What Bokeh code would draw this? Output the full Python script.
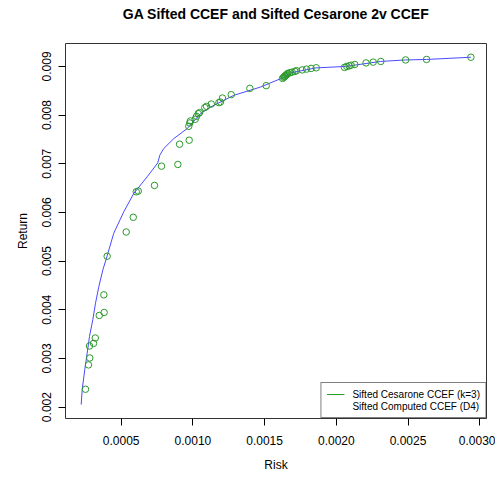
from bokeh.plotting import figure
from bokeh.models import FixedTicker, PrintfTickFormatter, Legend, LegendItem, Range1d, Title
from bokeh.embed import file_html
from bokeh.resources import INLINE

# Sifted Cesarone CCEF (k=3) -- frontier line
line_risk = [0.000221, 0.000228, 0.000246, 0.000263, 0.000279, 0.000302, 0.000321,
             0.000344, 0.000372, 0.000402, 0.000448, 0.000518, 0.000588, 0.000681,
             0.000755, 0.000769, 0.000797, 0.000867, 0.000960, 0.001053, 0.001123,
             0.001285, 0.001471, 0.001634, 0.001681, 0.001855, 0.002064, 0.002308,
             0.002483, 0.002629, 0.002939]
line_return = [0.002053, 0.002361, 0.002770, 0.003113, 0.003453, 0.003795, 0.004137,
               0.004477, 0.004820, 0.005107, 0.005572, 0.006014, 0.006391, 0.006732,
               0.007018, 0.007176, 0.007314, 0.007518, 0.007723, 0.008031, 0.008166,
               0.008406, 0.008576, 0.008775, 0.008867, 0.008969, 0.009000, 0.009102,
               0.009133, 0.009143, 0.009189]

# Sifted Computed CCEF (D4) -- points
pts_risk = [0.000251, 0.000272, 0.000281, 0.000279, 0.000307, 0.000319, 0.000347,
            0.000381, 0.000379, 0.000402, 0.000535, 0.000584, 0.000605, 0.000619,
            0.000732, 0.000781, 0.000895, 0.000907, 0.000974, 0.000971, 0.000978,
            0.000983, 0.001016, 0.001025, 0.001037, 0.001046, 0.001083, 0.001095,
            0.001128, 0.001181, 0.001192, 0.001206, 0.001267, 0.001397, 0.001511,
            0.001625, 0.001632, 0.001639, 0.001642, 0.001646, 0.001653, 0.001658,
            0.001663, 0.001676, 0.001692, 0.001711, 0.001722, 0.001762, 0.001792,
            0.001824, 0.001860, 0.002057, 0.002073, 0.002089, 0.002103, 0.002129,
            0.002207, 0.002257, 0.002310, 0.002483, 0.002629, 0.002938]
pts_return = [0.002367, 0.002867, 0.003010, 0.003256, 0.003309, 0.003420, 0.003883,
              0.003945, 0.004307, 0.005100, 0.005598, 0.005900, 0.006424, 0.006439,
              0.006555, 0.006951, 0.006986, 0.007402, 0.007484, 0.007770, 0.007838,
              0.007879, 0.007914, 0.007975, 0.008031, 0.008051, 0.008154, 0.008180,
              0.008227, 0.008256, 0.008268, 0.008350, 0.008420, 0.008549, 0.008605,
              0.008754, 0.008775, 0.008789, 0.008801, 0.008816, 0.008826, 0.008846,
              0.008857, 0.008871, 0.008883, 0.008898, 0.008912, 0.008928, 0.008945,
              0.008959, 0.008973, 0.008980, 0.009000, 0.009010, 0.009025, 0.009041,
              0.009072, 0.009088, 0.009102, 0.009133, 0.009143, 0.009189]

x_ticks = [0.0005, 0.0010, 0.0015, 0.0020, 0.0025, 0.0030]
y_ticks = [0.002, 0.003, 0.004, 0.005, 0.006, 0.007, 0.008, 0.009]

TITLE = "GA Sifted CCEF and Sifted Cesarone 2v CCEF"
FONT = "Liberation Sans"
GREEN = "#2a9a2a"
BLUE = "#4a4aff"

p = figure(width=495, height=474, output_backend="svg", toolbar_location=None,
           x_range=Range1d(0.0001116, 0.003047), y_range=Range1d(0.001766, 0.009471),
           min_border_left=65, min_border_right=9, min_border_top=0, min_border_bottom=55)
p.title_location = None

# spacer nearest the frame, then the real title above it
p.add_layout(Title(text=" ", text_font_size="8px", standoff=3), "above")
p.add_layout(Title(text=TITLE, align="center", vertical_align="top", standoff=11,
                   text_font=FONT, text_font_size="14px", text_font_style="bold",
                   text_color="black"), "above")

p.grid.visible = False
p.outline_line_color = "#333333"
p.outline_line_width = 1
p.background_fill_color = "white"
p.border_fill_color = "white"

for ax in (p.xaxis[0], p.yaxis[0]):
    ax.axis_line_color = None
    ax.major_tick_in = 0
    ax.major_tick_out = 7
    ax.minor_tick_line_color = None
    ax.major_tick_line_color = "black"
    ax.major_label_text_font = FONT
    ax.major_label_text_font_size = "12px"
    ax.major_label_text_color = "black"
    ax.axis_label_text_font = FONT
    ax.axis_label_text_font_size = "12px"
    ax.axis_label_text_font_style = "normal"
    ax.axis_label_text_color = "black"

p.xaxis.ticker = FixedTicker(ticks=x_ticks)
p.yaxis.ticker = FixedTicker(ticks=y_ticks)
p.xaxis.formatter = PrintfTickFormatter(format="%.4f")
p.yaxis.formatter = PrintfTickFormatter(format="%.3f")
p.yaxis.major_label_orientation = "vertical"
p.xaxis.axis_label = "Risk"
p.yaxis.axis_label = "Return"
p.xaxis.major_label_standoff = 10
p.xaxis.axis_label_standoff = 10
p.yaxis.major_label_standoff = 7
p.yaxis.axis_label_standoff = 10

r_line = p.line(line_risk, line_return, line_color=BLUE, line_width=1)
r_pts = p.scatter(pts_risk, pts_return, marker="circle", size=6.5, fill_color=None,
                  line_color=GREEN, line_width=1)

# legend-only renderers (not drawn in the plot area)
r_leg1 = p.line(line_risk, line_return, line_color=GREEN, line_width=1, visible=False)
r_leg2 = p.line(line_risk, line_return, line_alpha=0, visible=False)

legend = Legend(items=[LegendItem(label="Sifted Cesarone CCEF (k=3)", renderers=[r_leg1]),
                       LegendItem(label="Sifted Computed CCEF (D4)", renderers=[r_leg2])],
                location="bottom_right")
legend.click_policy = "none"
legend.margin = 0
legend.padding = 5
legend.spacing = 0
legend.glyph_width = 18
legend.glyph_height = 12
legend.label_height = 12
legend.label_standoff = 8
legend.label_text_font = FONT
legend.label_text_font_size = "10px"
legend.label_text_color = "black"
legend.border_line_color = "black"
legend.border_line_width = 1
legend.background_fill_color = "white"
legend.background_fill_alpha = 1
p.add_layout(legend)

open("out.html", "w").write(file_html(p, INLINE))
